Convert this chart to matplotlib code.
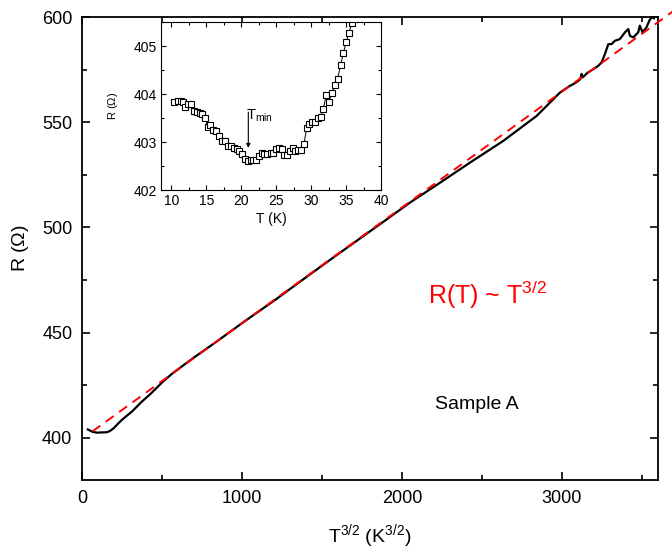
import matplotlib
matplotlib.use("Agg")
import matplotlib.pyplot as plt
from matplotlib.ticker import MultipleLocator

plt.rcParams['font.family'] = ['Liberation Sans', 'DejaVu Sans']
plt.rcParams['mathtext.fontset'] = 'custom'
plt.rcParams['mathtext.rm'] = 'Liberation Sans'
plt.rcParams['mathtext.it'] = 'Liberation Sans:italic'

# main curve: R vs T^(3/2)
t32 = [37, 50, 62, 78, 94, 110, 125, 140, 156, 175, 198, 222, 250, 280, 312,
       345, 375, 427, 500, 560, 625, 700, 833, 1000, 1208, 1400, 1600, 1862,
       2050, 2237, 2425, 2633, 2842, 2988, 3050, 3071, 3100, 3115, 3123, 3130,
       3160, 3196, 3227, 3248, 3269, 3290, 3310, 3331, 3362, 3394, 3415, 3425,
       3446, 3477, 3487, 3504, 3529, 3546, 3560, 3575]
res = [404.0, 403.5, 403.0, 402.7, 402.5, 402.55, 402.6, 402.65, 402.7, 403.3,
       404.6, 406.5, 408.6, 410.5, 412.5, 415.0, 417.3, 420.8, 426.3, 430.3,
       434.0, 438.2, 445.3, 454.5, 465.6, 476.3, 487.3, 501.5, 511.8, 521.2,
       530.8, 541.1, 553.0, 564.1, 567.3, 568.1, 569.5, 570.5, 573.0, 571.3,
       573.5, 575.2, 576.8, 578.4, 582.4, 587.1, 587.1, 588.7, 589.5, 592.7,
       594.3, 591.1, 590.3, 592.7, 595.9, 592.7, 595.1, 598.2, 599.9, 599.4]

# linear fit R = a + b * T^(3/2)
fit_a = 399.5
fit_b = 0.055
fit_x = [65, 3700]

# inset: R vs T near the minimum
t_in = [10.33, 10.96, 11.34, 11.67, 12.0, 12.39, 12.77, 13.2, 13.68, 14.06,
        14.44, 14.83, 15.2, 15.54, 15.92, 16.35, 16.78, 17.26, 17.69, 18.07,
        18.5, 18.89, 19.32, 19.7, 20.13, 20.51, 20.89, 21.32, 21.7, 22.09,
        22.47, 22.9, 23.28, 23.66, 24.19, 24.57, 24.95, 25.34, 25.77, 26.15,
        26.58, 26.96, 27.34, 27.73, 28.16, 28.54, 28.97, 29.35, 29.73, 30.16,
        30.55, 30.98, 31.36, 31.74, 32.17, 32.55, 32.93, 33.41, 33.79, 34.22,
        34.61, 34.99, 35.42, 35.8]
r_in = [403.84, 403.85, 403.86, 403.84, 403.74, 403.79, 403.79, 403.65, 403.62,
        403.60, 403.58, 403.50, 403.31, 403.35, 403.26, 403.22, 403.13, 403.02,
        403.03, 402.92, 402.91, 402.87, 402.85, 402.81, 402.76, 402.65, 402.61,
        402.63, 402.63, 402.63, 402.70, 402.78, 402.76, 402.76, 402.77, 402.78,
        402.85, 402.87, 402.86, 402.72, 402.73, 402.81, 402.88, 402.81, 402.83,
        402.83, 402.96, 403.29, 403.38, 403.42, 403.42, 403.50, 403.52, 403.69,
        403.99, 403.83, 404.02, 404.18, 404.32, 404.61, 404.85, 405.08, 405.27,
        405.49]
t_min = 21.0

fig = plt.figure(figsize=(6.72, 5.54), dpi=100)
ax = fig.add_axes([0.122, 0.1336, 0.857, 0.8357])

ax.plot(t32, res, color='black', lw=1.6, zorder=3)
ax.plot(fit_x, [fit_a + fit_b * x for x in fit_x], color='red', lw=1.4,
        ls=(0, (5, 3.5)), clip_on=False, zorder=4)

ax.set_xlim(0, 3600)
ax.set_ylim(380, 600)
ax.xaxis.set_major_locator(MultipleLocator(1000))
ax.xaxis.set_minor_locator(MultipleLocator(500))
ax.yaxis.set_major_locator(MultipleLocator(50))
ax.yaxis.set_minor_locator(MultipleLocator(25))
ax.tick_params(which='both', direction='in', top=True, right=True,
               labelsize=13, width=1.2)
ax.tick_params(which='major', length=6, pad=7)
ax.tick_params(which='minor', length=3.5)
for s in ax.spines.values():
    s.set_linewidth(1.3)

ax.set_xlabel(r'T$^{3/2}$ (K$^{3/2}$)', fontsize=14, labelpad=11)
ax.set_ylabel(r'R ($\Omega$)', fontsize=14, labelpad=8)

ax.text(0.705, 0.40, r'R(T) ~ T$^{3/2}$', color='red', fontsize=18,
        ha='center', va='center', transform=ax.transAxes)
ax.text(0.685, 0.162, 'Sample A', color='black', fontsize=14,
        ha='center', va='center', transform=ax.transAxes)

# inset
axi = fig.add_axes([0.2396, 0.657, 0.3274, 0.3032])
axi.plot(t_in, r_in, color='black', lw=0.7, marker='s', ms=4.5,
         mfc='white', mec='black', mew=0.8)
axi.set_xlim(8.5, 40)
axi.set_ylim(402, 405.5)
axi.xaxis.set_major_locator(MultipleLocator(5))
axi.xaxis.set_minor_locator(MultipleLocator(2.5))
axi.yaxis.set_major_locator(MultipleLocator(1))
axi.yaxis.set_minor_locator(MultipleLocator(0.5))
axi.tick_params(which='both', direction='in', top=True, right=True,
                labelsize=10, width=0.8)
axi.tick_params(which='major', length=3.5, pad=3)
axi.tick_params(which='minor', length=2)
for s in axi.spines.values():
    s.set_linewidth(0.8)
axi.set_xlabel('T (K)', fontsize=10, labelpad=3)
axi.set_ylabel(r'R ($\Omega$)', fontsize=8, labelpad=10)

axi.annotate('', xy=(t_min, 402.82), xytext=(t_min, 403.68),
             arrowprops=dict(arrowstyle='-|>', color='black', lw=0.8,
                             mutation_scale=6))
axi.text(t_min - 0.35, 403.55, r'T$_{\mathrm{min}}$', fontsize=10.5,
         ha='left', va='center')

fig.savefig('out.png', dpi=100)
